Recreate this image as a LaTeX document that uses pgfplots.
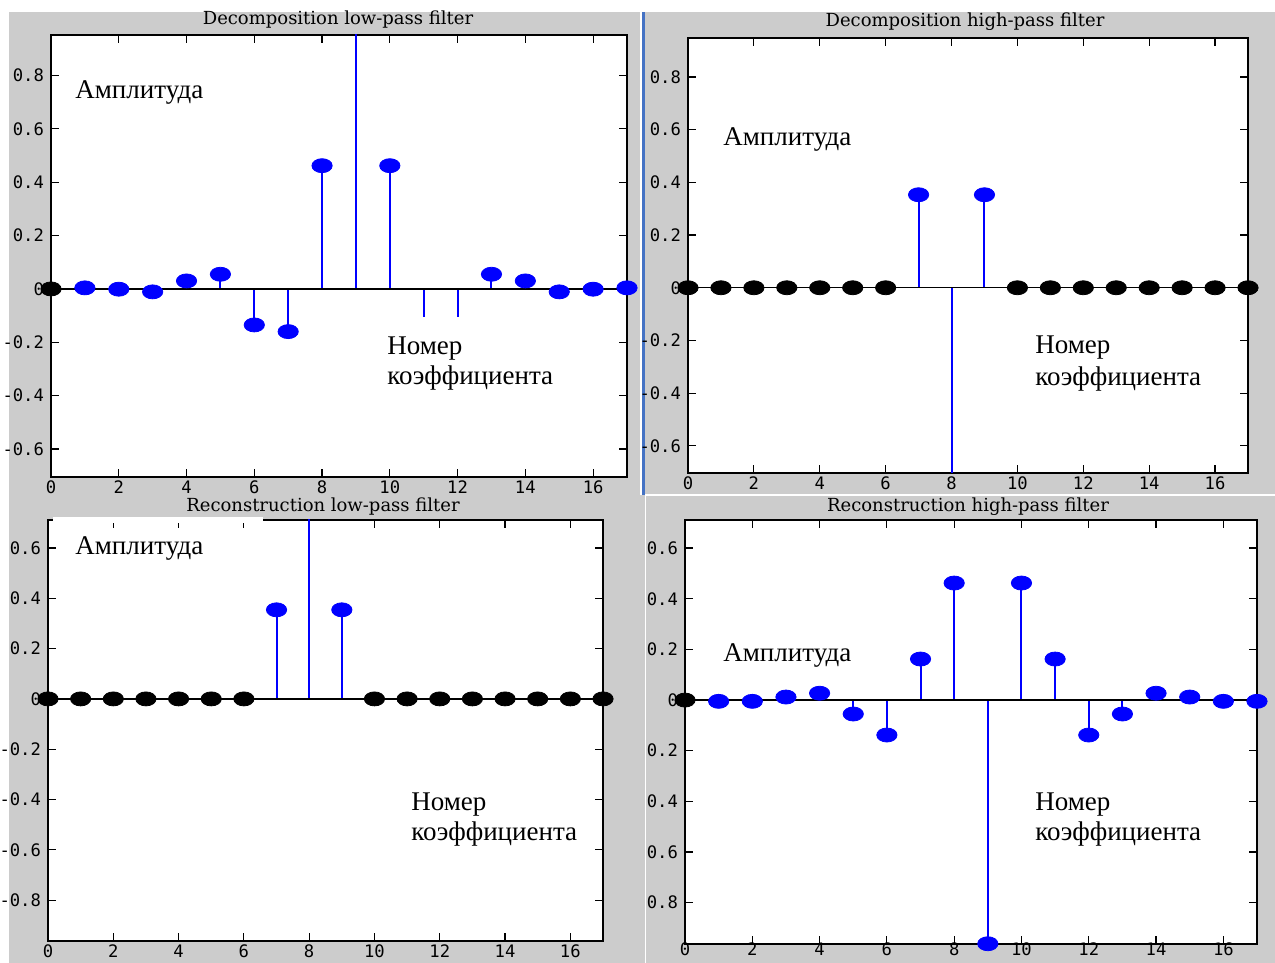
\documentclass[border=0pt]{standalone}
\usepackage{pgfplots}
\pgfplotsset{compat=1.18}
\usepackage{fontspec}
\setmainfont{Liberation Serif}
\newfontfamily\titlefont{DejaVu Serif}
\newfontfamily\tickfont{DejaVu Sans Mono}
\definecolor{panelgray}{RGB}{204,204,204}
\definecolor{divblue}{RGB}{68,114,196}
\definecolor{stemblue}{RGB}{0,0,255}

\pgfplotsset{
  filt/.style={
    scale only axis,
    axis background/.style={fill=white},
    xmin=0, xmax=17, xtick={0,2,...,16},
    xtick pos=both, ytick pos=both,
    tick align=inside,
    major tick length=4pt,
    axis line style={black, line width=0.8pt},
    every tick/.style={black, line width=0.6pt},
    tick label style={font=\tickfont\fontsize{8.6}{9}\selectfont},
    xticklabel style={yshift=1.5pt},
    /pgf/number format/assume math mode=true,
    anchor=south west,
  },
  stem/.style={ycomb, draw=stemblue, line width=1pt, no markers},
  bdot/.style={only marks, mark=*, mark size=3.5pt, color=stemblue,
    mark options={xscale=1.45, fill=stemblue, draw=stemblue}},
  kdot/.style={only marks, mark=*, mark size=3.5pt, color=black,
    mark options={xscale=1.45, fill=black, draw=black}},
  zline/.style={black, line width=0.7pt, no markers},
}

\newcommand{\amp}{\fontsize{13.5}{15}\selectfont Амплитуда}
\newcommand{\nom}{\fontsize{13.5}{15}\selectfont Номер}
\newcommand{\koef}{\fontsize{13.5}{15}\selectfont коэффициента}
\newcommand{\ttl}{\titlefont\fontsize{9}{10}\selectfont}

\begin{document}
\begin{tikzpicture}
\path[use as bounding box] (0,0) rectangle (637.5pt,481.5pt);
\clip (0,0) rectangle (637.5pt,481.5pt);
\fill[white] (0,0) rectangle (637.5pt,481.5pt);
\fill[panelgray] (4.5pt,0) rectangle (322.5pt,475.5pt);
\fill[white] (320pt,234pt) rectangle (321pt,475.5pt);
\fill[divblue] (321pt,234pt) rectangle (322.25pt,475.5pt);
\fill[panelgray] (322.5pt,234.5pt) rectangle (637.5pt,475.5pt);
\fill[panelgray] (323pt,0) rectangle (637.5pt,233.5pt);

% ---------- Panel 1: Decomposition low-pass ----------
\begin{axis}[filt, at={(25.5pt,243pt)}, width=288pt, height=221pt,
  ymin=-0.705, ymax=0.952,
  ytick={-0.6,-0.4,-0.2,0,0.2,0.4,0.6,0.8},
  yticklabels={-0.6,-0.4,-0.2,0,0.2,0.4,0.6,0.8}]
\addplot[stem] coordinates {(0,0) (1,0.004) (2,-0.001) (3,-0.011) (4,0.03) (5,0.055) (6,-0.135) (7,-0.16) (8,0.462) (9,0.96) (10,0.462) (11,-0.105) (12,-0.105) (13,0.055) (14,0.03) (15,-0.011) (16,-0.001) (17,0.004)};
\addplot[bdot] coordinates {(1,0.004) (2,-0.001) (3,-0.011) (4,0.03) (5,0.055) (6,-0.135) (7,-0.16) (8,0.462) (10,0.462) (13,0.055) (14,0.03) (15,-0.011) (16,-0.001) (17,0.004)};
\addplot[zline] coordinates {(0,0) (17,0)};
\addplot[kdot] coordinates {(0,0)};
\end{axis}

% ---------- Panel 2: Decomposition high-pass ----------
\begin{axis}[filt, at={(344pt,245pt)}, width=280pt, height=217.5pt,
  ymin=-0.703, ymax=0.948,
  ytick={-0.6,-0.4,-0.2,0,0.2,0.4,0.6,0.8},
  yticklabels={-0.6,-0.4,-0.2,0,0.2,0.4,0.6,0.8}]
\addplot[stem] coordinates {(7,0.353) (8,-0.705) (9,0.353)};
\addplot[bdot] coordinates {(7,0.353) (8,-0.705) (9,0.353)};
\addplot[zline] coordinates {(0,0) (17,0)};
\addplot[kdot] coordinates {(0,0) (1,0) (2,0) (3,0) (4,0) (5,0) (6,0) (10,0) (11,0) (12,0) (13,0) (14,0) (15,0) (16,0) (17,0)};
\end{axis}

% ---------- Panel 3: Reconstruction low-pass ----------
\begin{axis}[filt, at={(24pt,11pt)}, width=277.5pt, height=210.5pt,
  ymin=-0.962, ymax=0.711,
  ytick={-0.8,-0.6,-0.4,-0.2,0,0.2,0.4,0.6},
  yticklabels={-0.8,-0.6,-0.4,-0.2,0,0.2,0.4,0.6}]
\addplot[stem] coordinates {(7,0.354) (8,0.72) (9,0.354)};
\addplot[bdot] coordinates {(7,0.354) (9,0.354)};
\addplot[zline] coordinates {(0,0) (17,0)};
\addplot[kdot] coordinates {(0,0) (1,0) (2,0) (3,0) (4,0) (5,0) (6,0) (10,0) (11,0) (12,0) (13,0) (14,0) (15,0) (16,0) (17,0)};
\end{axis}
\fill[white] (26.5pt,220pt) rectangle (131.5pt,223pt);

% ---------- Panel 4: Reconstruction high-pass ----------
\begin{axis}[filt, at={(342.5pt,9.5pt)}, width=286pt, height=212pt,
  ymin=-0.963, ymax=0.711,
  ytick={-0.8,-0.6,-0.4,-0.2,0,0.2,0.4,0.6},
  yticklabels={0.8,0.6,0.4,0.2,0,0.2,0.4,0.6},
  xticklabel style={yshift=2.5pt}]
\addplot[stem] coordinates {(0,0) (1,-0.005) (2,-0.005) (3,0.012) (4,0.027) (5,-0.055) (6,-0.138) (7,0.162) (8,0.462) (9,-0.962) (10,0.462) (11,0.162) (12,-0.138) (13,-0.055) (14,0.027) (15,0.012) (16,-0.005) (17,-0.005)};
\addplot[bdot] coordinates {(1,-0.005) (2,-0.005) (3,0.012) (4,0.027) (5,-0.055) (6,-0.138) (7,0.162) (8,0.462) (9,-0.962) (10,0.462) (11,0.162) (12,-0.138) (13,-0.055) (14,0.027) (15,0.012) (16,-0.005) (17,-0.005)};
\addplot[zline] coordinates {(0,0) (17,0)};
\addplot[kdot] coordinates {(0,0)};
\end{axis}

% ---------- Titles ----------
\node[font=\ttl] at (169pt,471.5pt) {Decomposition low-pass filter};
\node[font=\ttl] at (482.5pt,470.5pt) {Decomposition high-pass filter};
\node[font=\ttl] at (161.5pt,228pt) {Reconstruction low-pass filter};
\node[font=\ttl] at (484pt,228pt) {Reconstruction high-pass filter};

% ---------- Annotations ----------
\node[anchor=base west, inner sep=0pt] at (37.5pt,432pt) {\amp};
\node[anchor=base west, inner sep=0pt] at (193.5pt,304pt) {\nom};
\node[anchor=base west, inner sep=0pt] at (193.5pt,289pt) {\koef};

\node[anchor=base west, inner sep=0pt] at (361.5pt,408.5pt) {\amp};
\node[anchor=base west, inner sep=0pt] at (517.5pt,304.5pt) {\nom};
\node[anchor=base west, inner sep=0pt] at (517.5pt,288.5pt) {\koef};

\node[anchor=base west, inner sep=0pt] at (37.5pt,204pt) {\amp};
\node[anchor=base west, inner sep=0pt] at (205.5pt,76pt) {\nom};
\node[anchor=base west, inner sep=0pt] at (205.5pt,61pt) {\koef};

\node[anchor=base west, inner sep=0pt] at (361.5pt,150.5pt) {\amp};
\node[anchor=base west, inner sep=0pt] at (517.5pt,76pt) {\nom};
\node[anchor=base west, inner sep=0pt] at (517.5pt,61pt) {\koef};
\end{tikzpicture}
\end{document}
